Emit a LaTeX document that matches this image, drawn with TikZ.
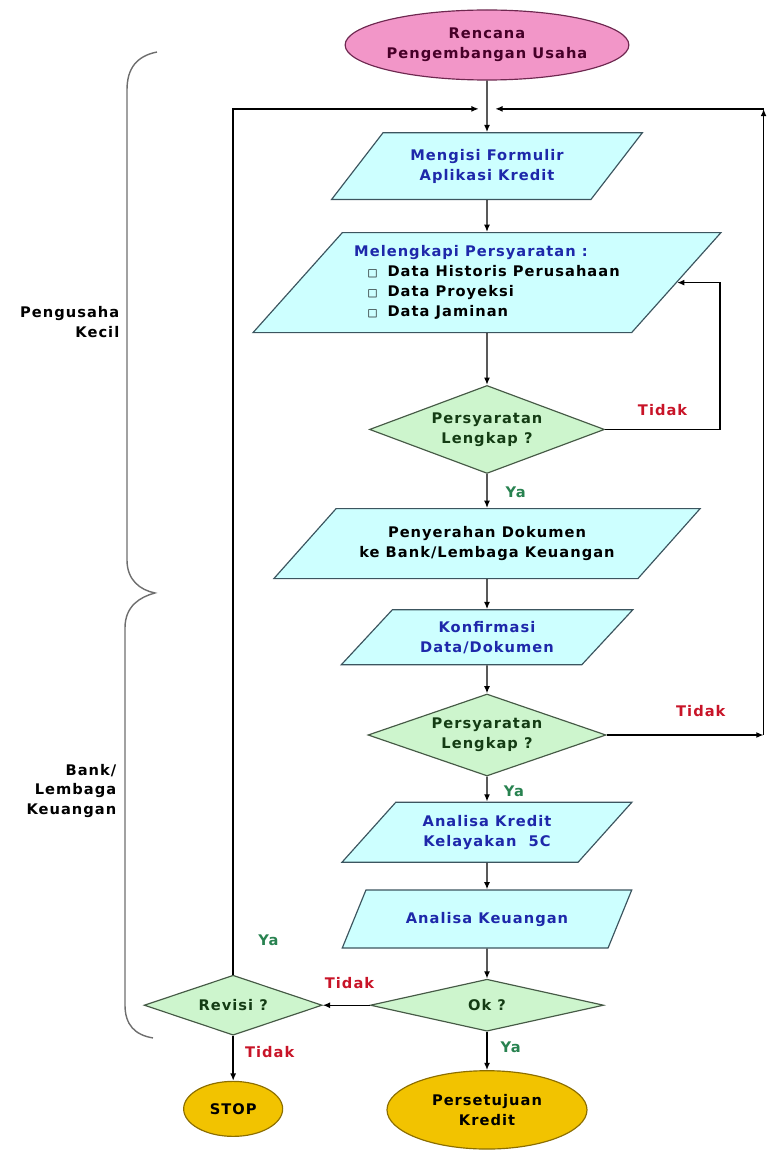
\documentclass[tikz,border=0pt]{standalone}
\usepackage{fontspec}
\setmainfont{DejaVu Sans}[LetterSpace=7]
\usetikzlibrary{shapes.geometric,arrows.meta,positioning}
\definecolor{pinkfill}{RGB}{242,150,200}
\definecolor{pinkline}{RGB}{110,40,80}
\definecolor{pinktext}{RGB}{70,0,40}
\definecolor{iofill}{RGB}{205,255,255}
\definecolor{ioline}{RGB}{60,85,95}
\definecolor{iotext}{RGB}{30,40,170}
\definecolor{decfill}{RGB}{205,245,205}
\definecolor{decline}{RGB}{70,90,70}
\definecolor{dectext}{RGB}{20,60,20}
\definecolor{goldfill}{RGB}{242,195,0}
\definecolor{goldline}{RGB}{140,110,0}
\definecolor{yacol}{RGB}{40,130,80}
\definecolor{tidakcol}{RGB}{200,20,40}
\definecolor{bracecol}{RGB}{110,110,110}
\tikzset{
    terminal/.style = {draw=pinkline, fill=pinkfill, ellipse, line width=1pt, align=center, inner sep=0pt, text=pinktext},
    io/.style = {draw=ioline, fill=iofill, trapezium, trapezium left angle=42, trapezium right angle=138, trapezium stretches=true, line width=1pt, align=center, inner sep=0pt, text=iotext},
    decision/.style = {draw=decline, fill=decfill, diamond, line width=1pt, align=center, inner sep=0pt, text=dectext},
    stopnode/.style = {draw=goldline, fill=goldfill, ellipse, line width=1pt, align=center, inner sep=0pt, text=black},
    yes/.style = {text=yacol, inner sep=1pt},
    no/.style = {text=tidakcol, inner sep=1pt},
    side/.style = {align=right, inner sep=0pt, anchor=east},
    brace/.style = {draw=bracecol, line width=1.2pt},
}

\begin{document}
\begin{tikzpicture}[node distance=1cm, >={Latex[length=2.2mm, width=1.8mm]}, line width=1.2pt, font=\fontsize{12.5}{17}\selectfont\bfseries]
    \useasboundingbox (0,0) rectangle (23.31,-34.59);
    % Pengusaha kecil part
    \node[terminal, minimum width=8.1cm, minimum height=2.1cm] (start) at (14.61,-1.35) {Rencana\\Pengembangan Usaha};
    \node[inner sep=0pt, minimum width=0.45cm, below=0.81cm of start] (join) {};
    \node[io, minimum width=9.33cm, minimum height=2cm, below=0.66cm of join] (p1) {Mengisi Formulir\\Aplikasi Kredit};
    \node[io, align=left, minimum width=14.1cm, minimum height=3cm, below=0.96cm of p1] (p2) {Melengkapi Persyaratan :\\
        \color{black}\hspace*{0.4cm}{\small□}\hspace*{0.3cm}Data Historis Perusahaan\\
        \color{black}\hspace*{0.4cm}{\small□}\hspace*{0.3cm}Data Proyeksi\\
        \color{black}\hspace*{0.4cm}{\small□}\hspace*{0.3cm}Data Jaminan};
    \node[decision, aspect=2.67, minimum width=7.05cm, minimum height=2.64cm, below=1.55cm of p2] (d1) {Persyaratan\\Lengkap ?};
    \node[io, trapezium left angle=33, trapezium right angle=147, minimum width=12.84cm, minimum height=2.1cm, below=1.02cm of d1, text=black] (p3) {Penyerahan Dokumen\\ke Bank/Lembaga Keuangan};

    % Bank / lembaga keuangan part
    \node[io, minimum width=8.76cm, minimum height=1.65cm, below=0.9cm of p3] (p4) {Konfirmasi\\Data/Dokumen};
    \node[decision, aspect=2.9, minimum width=7.14cm, minimum height=2.46cm, below=0.84cm of p4] (d2) {Persyaratan\\Lengkap ?};
    \node[io, minimum width=8.7cm, minimum height=1.8cm, below=0.75cm of d2] (p5) {Analisa Kredit\\Kelayakan \ 5C};
    \node[io, minimum width=8.7cm, minimum height=1.74cm, below=0.8cm of p5] (p6) {Analisa Keuangan};
    \node[decision, aspect=4.49, minimum width=7cm, minimum height=1.56cm, below=0.9cm of p6] (d3) {Ok ?};
    \node[stopnode, minimum width=6cm, minimum height=2.35cm, below=1.15cm of d3] (ok) {Persetujuan\\Kredit};
    \node[decision, aspect=2.97, minimum width=5.34cm, minimum height=1.8cm, left=1.41cm of d3] (rev) {Revisi ?};
    \node[stopnode, minimum width=2.97cm, minimum height=1.65cm, below=1.35cm of rev] (stop) {STOP};

    \coordinate[right=3.45cm of d1.east] (r1);
    \coordinate[right=4.71cm of d2.east] (r2);
    \coordinate (rtop) at (r2 |- join);

    % Connections
    \draw[->] (start) -- (p1);
    \draw[->] (p1) -- (p2);
    \draw[->] (p2) -- (d1);
    \draw[->] (d1) -- node[yes, pos=0.55, right=0.5cm] {Ya} (p3);
    \draw[->] (p3) -- (p4);
    \draw[->] (p4) -- (d2);
    \draw[->] (d2) -- node[yes, pos=0.6, right=0.45cm] {Ya} (p5);
    \draw[->] (p5) -- (p6);
    \draw[->] (p6) -- (d3);
    \draw[->] (d3) -- node[yes, pos=0.4, right=0.35cm] {Ya} (ok);
    \draw[->] (d3.west) -- node[no, pos=0.43, above=0.45cm] {Tidak} (rev.east);
    \draw[->] (rev) -- node[no, pos=0.35, right=0.3cm] {Tidak} (stop);

    % Loops back
    \draw[->] (d1.east) -- node[no, above=0.35cm] {Tidak} (r1) |- (p2.east);
    \draw[->] (d2.east) -- node[no, pos=0.6, above=0.5cm] {Tidak} (r2);
    \draw[->] (r2) -- (rtop);
    \draw[->] (rtop) -- (join.east);
    \draw[->] (rev.north) |- node[yes, pos=0.02, right=0.7cm] {Ya} (join.west);

    % Braces and side labels
    \begin{scope}[x=0.03cm, y=-0.03cm]
        \draw[brace] (157,52) .. controls (137,56) and (127,68) .. (127,90) -- (127,560)
            .. controls (127,580) and (140,590) .. (155,593)
            .. controls (140,597) and (125,606) .. (125,628) -- (125,1005)
            .. controls (125,1025) and (135,1035) .. (153,1038);
        \node[side] (kecil) at (120,322) {Pengusaha\\Kecil};
        \node[side] (bank) at (117,791) {Bank/\\Lembaga\\Keuangan};
    \end{scope}
\end{tikzpicture}
\end{document}
